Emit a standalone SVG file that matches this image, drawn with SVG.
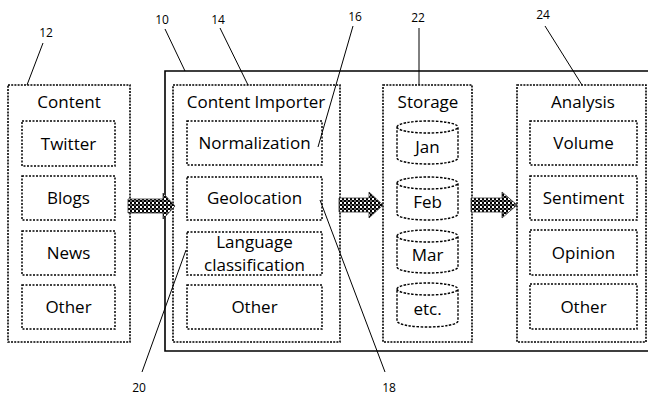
<svg xmlns="http://www.w3.org/2000/svg" width="648" height="395" viewBox="0 0 648 395">
<defs>
<pattern id="chk" width="4" height="4" patternUnits="userSpaceOnUse">
<rect width="4" height="4" fill="#fff"/>
<rect width="2" height="2" fill="#000"/>
<rect x="2" y="2" width="2" height="2" fill="#000"/>
<rect x="2" y="0" width="2" height="2" fill="#666"/>
</pattern>
</defs>
<style>
.grp{fill:#fff;stroke:#000;stroke-width:1.6;stroke-dasharray:2 1.2}
.box{fill:#fff;stroke:#000;stroke-width:1.5;stroke-dasharray:2 1.5}
.cyl{fill:#fff;stroke:#000;stroke-width:1.4;stroke-dasharray:2.5 1.5}
.t{font-family:"Open Sans","Liberation Sans",sans-serif;font-size:17px;fill:#000;text-anchor:middle}
.n{font-family:"Open Sans","Liberation Sans",sans-serif;font-size:12px;fill:#000;text-anchor:middle}
.ld{stroke:#000;stroke-width:1;fill:none}
.arr{fill:url(#chk);stroke:#333;stroke-width:0.8}
</style>
<rect width="648" height="395" fill="#fff"/>
<g id="system-10">
<path d="M650,71 L165,71 L165,351 L650,351" fill="none" stroke="#000" stroke-width="1.6"/>
</g>
<g id="content-12">
<rect class="grp" x="8" y="85" width="122" height="257"/>
<text class="t" x="69" y="108">Content</text>
<rect class="box" x="22" y="121" width="93" height="45"/>
<text class="t" x="68.5" y="150">Twitter</text>
<rect class="box" x="22" y="176" width="93" height="44"/>
<text class="t" x="68.5" y="204">Blogs</text>
<rect class="box" x="22" y="231" width="93" height="44"/>
<text class="t" x="68.5" y="259">News</text>
<rect class="box" x="22" y="285" width="93" height="44"/>
<text class="t" x="68.5" y="313">Other</text>
</g>
<g id="importer-14">
<rect class="grp" x="173" y="85" width="167" height="257"/>
<text class="t" x="256" y="108">Content Importer</text>
<rect class="box" x="187" y="121" width="135" height="44"/>
<text class="t" x="254.5" y="149">Normalization</text>
<rect class="box" x="187" y="177" width="135" height="43"/>
<text class="t" x="254.5" y="204">Geolocation</text>
<rect class="box" x="187" y="232" width="135" height="43"/>
<text class="t" x="254.5" y="248">Language</text>
<text class="t" x="254.5" y="271">classification</text>
<rect class="box" x="187" y="285" width="135" height="44"/>
<text class="t" x="254.5" y="313">Other</text>
</g>
<g id="storage-22">
<rect class="grp" x="383" y="85" width="89" height="257"/>
<text class="t" x="428" y="108">Storage</text>
<path class="cyl" d="M397,127 A30.5,6 0 0 1 458,127 L458,158 A30.5,6 0 0 1 397,158 Z M397,127 A30.5,6 0 0 0 458,127"/>
<text class="t" x="427.5" y="153">Jan</text>
<path class="cyl" d="M397,183 A30.5,6 0 0 1 458,183 L458,214 A30.5,6 0 0 1 397,214 Z M397,183 A30.5,6 0 0 0 458,183"/>
<text class="t" x="427.5" y="208">Feb</text>
<path class="cyl" d="M397,236 A30.5,6 0 0 1 458,236 L458,267 A30.5,6 0 0 1 397,267 Z M397,236 A30.5,6 0 0 0 458,236"/>
<text class="t" x="427.5" y="261">Mar</text>
<path class="cyl" d="M397,289 A30.5,6 0 0 1 458,289 L458,321 A30.5,6 0 0 1 397,321 Z M397,289 A30.5,6 0 0 0 458,289"/>
<text class="t" x="427.5" y="315">etc.</text>
</g>
<g id="analysis-24">
<rect class="grp" x="517" y="85" width="129" height="257"/>
<text class="t" x="583" y="108">Analysis</text>
<rect class="box" x="530" y="121" width="107" height="44"/>
<text class="t" x="583.5" y="149">Volume</text>
<rect class="box" x="530" y="176" width="107" height="44"/>
<text class="t" x="583.5" y="204">Sentiment</text>
<rect class="box" x="530" y="230" width="107" height="45"/>
<text class="t" x="583.5" y="259">Opinion</text>
<rect class="box" x="530" y="284" width="107" height="45"/>
<text class="t" x="583.5" y="313">Other</text>
</g>
<g id="connectors">
<path class="arr" d="M128,199 L163,199 L163,193 L175,206 L163,219 L163,213 L128,213 Z"/>
<path class="arr" d="M339,198 L369,198 L369,192 L383,205 L369,218 L369,212 L339,212 Z"/>
<path class="arr" d="M471,198 L502,198 L502,192 L517,205 L502,218 L502,212 L471,212 Z"/>
<line class="ld" x1="43" y1="43" x2="27" y2="85"/>
<line class="ld" x1="165" y1="29" x2="185" y2="71"/>
<line class="ld" x1="220" y1="28" x2="248" y2="85"/>
<line class="ld" x1="353" y1="26" x2="318" y2="147"/>
<line class="ld" x1="419" y1="28" x2="419" y2="85"/>
<line class="ld" x1="545" y1="26" x2="582" y2="85"/>
<line class="ld" x1="142" y1="372" x2="186" y2="250"/>
<line class="ld" x1="320" y1="200" x2="385" y2="372"/>
</g>
<g id="labels">
<text class="n" x="46" y="37">12</text>
<text class="n" x="162" y="24">10</text>
<text class="n" x="218" y="24">14</text>
<text class="n" x="355" y="21">16</text>
<text class="n" x="418" y="22">22</text>
<text class="n" x="543" y="19">24</text>
<text class="n" x="139" y="392">20</text>
<text class="n" x="389" y="392">18</text>
</g>
</svg>
